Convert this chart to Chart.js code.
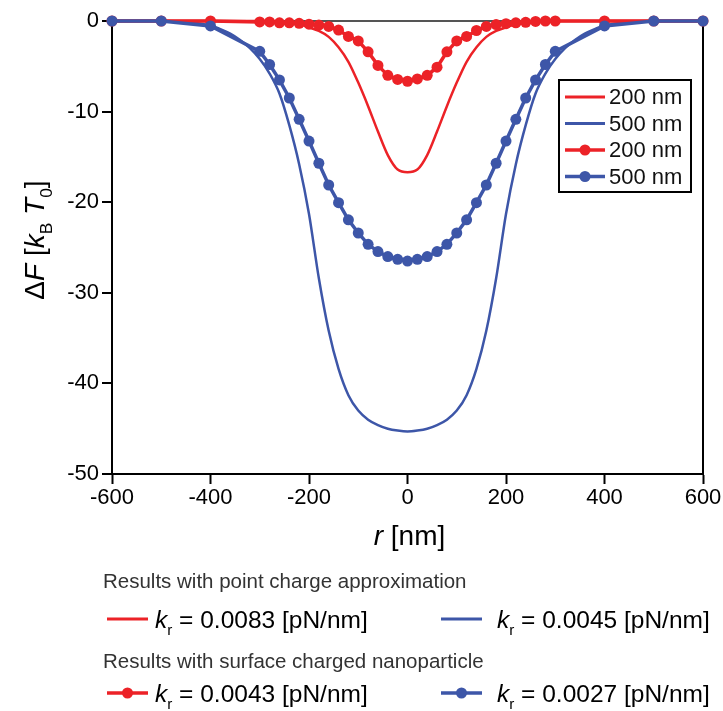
<!DOCTYPE html>
<html>
<head>
<meta charset="utf-8">
<script src="https://cdn.jsdelivr.net/npm/chart.js@4.4.0/dist/chart.umd.min.js"></script>
<style>
  html, body { margin: 0; padding: 0; background: #fff; }
  #wrap { width: 723px; height: 711px; position: relative; }
</style>
</head>
<body>
<div id="wrap"><canvas id="freeEnergy"></canvas></div>
<script>
// r grid for the smooth (point charge) curves, nm
const rSmooth = [-600, -500, -400, -380, -360, -340, -320, -300, -280, -260, -240, -220, -200, -180, -160, -140, -120, -100, -80, -60, -40, -20,
  0, 20, 40, 60, 80, 100, 120, 140, 160, 180, 200, 220, 240, 260, 280, 300, 320, 340, 360, 380, 400, 500, 600];
// point charge approximation, kr = 0.0083 pN/nm (200 nm)
const pointCharge200 = [0, 0, 0, 0, 0, 0, 0, 0, -0.05, -0.12, -0.25, -0.4, -0.7, -1.1, -1.75, -2.9, -4.5, -6.8, -9.4, -12.2, -14.8, -16.4,
  -16.7, -16.4, -14.8, -12.2, -9.4, -6.8, -4.5, -2.9, -1.75, -1.1, -0.7, -0.4, -0.25, -0.12, -0.05, 0, 0, 0, 0, 0, 0, 0, 0];
// point charge approximation, kr = 0.0045 pN/nm (500 nm)
const pointCharge500 = [0, 0, -0.5, -0.9, -1.4, -2.1, -3.0, -4.2, -5.8, -8.0, -11.5, -15.8, -21.3, -28.4, -34.2, -38.4, -41.3, -43.0, -44.0, -44.6, -45.0, -45.2,
  -45.3, -45.2, -45.0, -44.6, -44.0, -43.0, -41.3, -38.4, -34.2, -28.4, -21.3, -15.8, -11.5, -8.0, -5.8, -4.2, -3.0, -2.1, -1.4, -0.9, -0.5, 0, 0];

// r grid for the marked (surface charged nanoparticle) curves, nm
const rMarked = [-600, -500, -400, -300, -280, -260, -240, -220, -200, -180, -160, -140, -120, -100, -80, -60, -40, -20,
  0, 20, 40, 60, 80, 100, 120, 140, 160, 180, 200, 220, 240, 260, 280, 300, 400, 500, 600];
// surface charged nanoparticle, kr = 0.0043 pN/nm (200 nm)
const surface200 = [0, 0, 0, -0.1, -0.1, -0.2, -0.2, -0.25, -0.35, -0.45, -0.6, -1.0, -1.7, -2.2, -3.4, -4.9, -6.0, -6.45,
  -6.65, -6.4, -6.0, -5.1, -3.4, -2.2, -1.7, -1.05, -0.6, -0.4, -0.3, -0.2, -0.15, -0.05, 0, 0, 0, 0, 0];
// surface charged nanoparticle, kr = 0.0027 pN/nm (500 nm)
const surface500 = [0, 0, -0.55, -3.35, -4.8, -6.5, -8.5, -10.85, -13.25, -15.7, -18.1, -20.05, -21.95, -23.4, -24.65, -25.45, -26.0, -26.3,
  -26.5, -26.3, -26.0, -25.45, -24.65, -23.4, -21.95, -20.05, -18.1, -15.7, -13.25, -10.85, -8.5, -6.5, -4.8, -3.35, -0.55, 0, 0];

const seriesLabels = ['200 nm', '500 nm', '200 nm', '500 nm'];
const stiffness = ['0.0083', '0.0045', '0.0043', '0.0027'];
const groupTitles = ['Results with point charge approximation', 'Results with surface charged nanoparticle'];

const RED = '#ec2227';
const BLUE = '#3d56a8';
const FONT = "'Liberation Sans', Arial, Helvetica, sans-serif";

function pts(xs, ys) {
  return xs.map((x, i) => ({ x: x, y: ys[i] }));
}

// draws text made of parts: {t, italic, sub}
function richWidth(ctx, parts, size) {
  let w = 0;
  parts.forEach(p => {
    const s = p.sub ? size * 0.62 : size;
    ctx.font = (p.italic ? 'italic ' : '') + s + 'px ' + FONT;
    w += ctx.measureText(p.t).width;
  });
  return w;
}
function drawRich(ctx, parts, x, y, size) {
  ctx.textAlign = 'left';
  ctx.textBaseline = 'alphabetic';
  parts.forEach(p => {
    const s = p.sub ? size * 0.62 : size;
    ctx.font = (p.italic ? 'italic ' : '') + s + 'px ' + FONT;
    ctx.fillText(p.t, x, p.sub ? y + size * 0.3 : y);
    x += ctx.measureText(p.t).width;
  });
}

function sample(ctx, ds, x1, x2, y) {
  ctx.save();
  ctx.strokeStyle = ds.borderColor;
  ctx.lineWidth = ds.pointRadius ? 3.5 : 3;
  ctx.beginPath();
  ctx.moveTo(x1, y);
  ctx.lineTo(x2, y);
  ctx.stroke();
  if (ds.pointRadius) {
    ctx.fillStyle = ds.borderColor;
    ctx.beginPath();
    ctx.arc((x1 + x2) / 2, y, 5.5, 0, Math.PI * 2);
    ctx.fill();
  }
  ctx.restore();
}

const annotations = {
  id: 'annotations',
  afterDatasetsDraw(chart) {
    const ctx = chart.ctx;
    const sets = chart.data.datasets;
    // legend box inside the plot
    ctx.save();
    ctx.fillStyle = '#fff';
    ctx.fillRect(559, 80, 132, 112);
    ctx.strokeStyle = '#000';
    ctx.lineWidth = 2;
    ctx.strokeRect(559, 80, 132, 112);
    ctx.fillStyle = '#111';
    sets.forEach((ds, i) => {
      const y = 97 + i * 26.5;
      sample(ctx, ds, 565, 605, y);
      ctx.font = '22px ' + FONT;
      ctx.textAlign = 'left';
      ctx.textBaseline = 'middle';
      ctx.fillText(seriesLabels[i], 609, y + 1);
    });
    ctx.restore();
  },
  afterDraw(chart) {
    const ctx = chart.ctx;
    const sets = chart.data.datasets;
    const area = chart.chartArea;
    ctx.save();
    ctx.fillStyle = '#000';
    // x axis title
    const xt = [{ t: 'r', italic: true }, { t: ' [nm]' }];
    const xw = richWidth(ctx, xt, 28);
    drawRich(ctx, xt, (area.left + area.right) / 2 - xw / 2 + 2, 545, 28);
    // y axis title
    const yt = [{ t: '\u0394' }, { t: 'F', italic: true }, { t: ' [' }, { t: 'k', italic: true }, { t: 'B', sub: true },
      { t: ' ' }, { t: 'T', italic: true }, { t: '0', sub: true }, { t: ']' }];
    const yw = richWidth(ctx, yt, 28);
    ctx.save();
    ctx.translate(44, 240);
    ctx.rotate(-Math.PI / 2);
    drawRich(ctx, yt, -yw / 2, 0, 28);
    ctx.restore();

    // legend below the chart
    const cols = [{ line: 107, text: 155 }, { line: 441, text: 497 }];
    const rows = [619, 693];
    const heads = [582, 662];
    for (let g = 0; g < 2; g++) {
      ctx.fillStyle = '#333';
      ctx.font = '20.5px ' + FONT;
      ctx.textAlign = 'left';
      ctx.textBaseline = 'middle';
      ctx.fillText(groupTitles[g], 103, heads[g]);
      for (let c = 0; c < 2; c++) {
        const i = g * 2 + c;
        sample(ctx, sets[i], cols[c].line, cols[c].line + 41, rows[g]);
        ctx.fillStyle = '#000';
        drawRich(ctx, [{ t: 'k', italic: true }, { t: 'r', sub: true }, { t: ' = ' + stiffness[i] + ' [pN/nm]' }],
          cols[c].text, rows[g] + 9, 24.5);
      }
    }
    ctx.restore();
  }
};

const tickFont = { family: FONT, size: 22 };

new Chart(document.getElementById('freeEnergy'), {
  type: 'line',
  data: {
    datasets: [
      {
        label: seriesLabels[0],
        data: pts(rSmooth, pointCharge200),
        borderColor: RED, backgroundColor: RED,
        borderWidth: 2.5, pointRadius: 0, cubicInterpolationMode: 'monotone',
        fill: false, order: 3, clip: false
      },
      {
        label: seriesLabels[1],
        data: pts(rSmooth, pointCharge500),
        borderColor: BLUE, backgroundColor: BLUE,
        borderWidth: 2.5, pointRadius: 0, cubicInterpolationMode: 'monotone',
        fill: false, order: 2, clip: false
      },
      {
        label: seriesLabels[2],
        data: pts(rMarked, surface200),
        borderColor: RED, backgroundColor: RED,
        borderWidth: 3.5, pointRadius: 5.5, pointBorderWidth: 0, tension: 0,
        fill: false, order: 1, clip: false
      },
      {
        label: seriesLabels[3],
        data: pts(rMarked, surface500),
        borderColor: BLUE, backgroundColor: BLUE,
        borderWidth: 3.5, pointRadius: 5.5, pointBorderWidth: 0, tension: 0,
        fill: false, order: 0, clip: false
      }
    ]
  },
  options: {
    responsive: true,
    maintainAspectRatio: false,
    animation: false,
    layout: { padding: { top: 21, bottom: 197, left: 0, right: 0 } },
    plugins: {
      legend: { display: false },
      tooltip: { enabled: false }
    },
    scales: {
      x: {
        type: 'linear',
        min: -600,
        max: 600,
        ticks: { stepSize: 200, font: tickFont, color: '#000', padding: 1, maxRotation: 0 },
        grid: { drawOnChartArea: false, tickLength: 10, tickColor: '#000', tickWidth: 2 },
        border: { color: '#000', width: 2 },
        afterFit(axis) { axis.height = 40; }
      },
      y: {
        min: -50,
        max: 0,
        ticks: { stepSize: 10, font: tickFont, color: '#000', padding: 3 },
        grid: {
          color: c => (c.tick && c.tick.value === 0 ? '#555' : 'rgba(0,0,0,0)'),
          lineWidth: 2, tickLength: 10, tickColor: '#000', tickWidth: 2
        },
        border: { color: '#000', width: 2 },
        afterFit(axis) { axis.width = 112; }
      },
      y2: {
        position: 'right',
        min: -50,
        max: 0,
        ticks: { display: false },
        grid: { display: false },
        border: { color: '#000', width: 2 },
        afterFit(axis) { axis.width = 20; }
      }
    }
  },
  plugins: [annotations]
});
</script>
</body>
</html>
